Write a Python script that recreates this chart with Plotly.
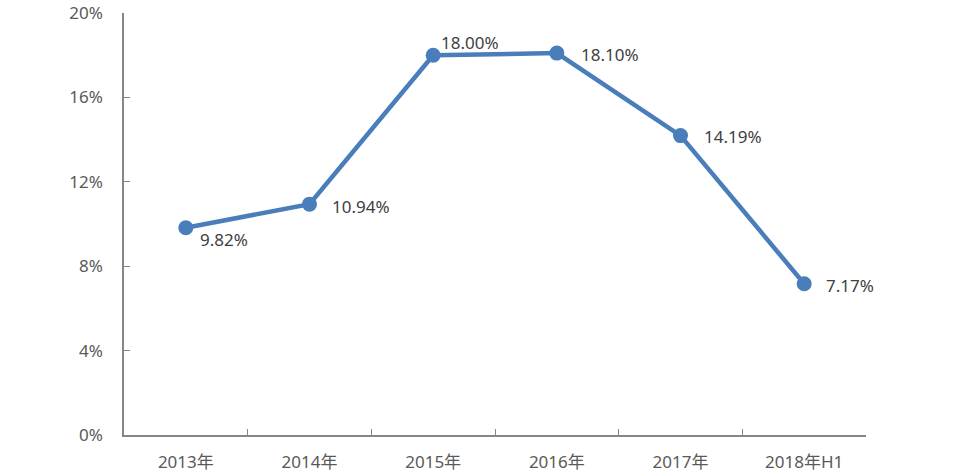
import plotly.graph_objects as go

# 数据
years = ['2013年', '2014年', '2015年', '2016年', '2017年', '2018年H1']
rates = [9.82, 10.94, 18.00, 18.10, 14.19, 7.17]
labels = ['9.82%', '10.94%', '18.00%', '18.10%', '14.19%', '7.17%']
y_ticks = [0, 4, 8, 12, 16, 20]
y_tick_text = ['0%', '4%', '8%', '12%', '16%', '20%']

# label offsets (px) relative to each point
label_dx = [12, 20, 6, 22, 21, 20]
label_dy = [-12, -2, 13, -1, -1, -2]

font_family = '"Noto Sans", "Noto Sans CJK SC", sans-serif'
line_color = '#4a7ebb'
axis_color = '#868686'

fig = go.Figure()
fig.add_trace(go.Scatter(
    x=years, y=rates, mode='lines+markers',
    line=dict(color=line_color, width=4.5),
    marker=dict(color=line_color, size=15),
    hoverinfo='skip', showlegend=False,
))

for x, y, t, dx, dy in zip(years, rates, labels, label_dx, label_dy):
    fig.add_annotation(x=x, y=y, text=t, showarrow=False,
                       xanchor='left', yanchor='middle',
                       xshift=dx, yshift=dy,
                       font=dict(size=17, color='#404040', family=font_family))

fig.update_layout(
    width=961, height=475,
    margin=dict(l=124, r=95, t=13, b=40),
    plot_bgcolor='white', paper_bgcolor='white',
    font=dict(family=font_family, size=17, color='#595959'),
)
fig.update_xaxes(
    type='category', range=[-0.5, 5.5], automargin=False,
    showline=True, linecolor=axis_color, linewidth=1.5,
    ticks='inside', tickson='boundaries', ticklen=6, tickcolor=axis_color,
    showgrid=False, ticklabelstandoff=11,
    tickfont=dict(size=17, color='#595959', family=font_family),
)
fig.update_yaxes(
    range=[0, 20], tickvals=y_ticks, ticktext=y_tick_text, automargin=False,
    showline=True, linecolor=axis_color, linewidth=1.5,
    ticks='inside', ticklen=6, tickcolor=axis_color,
    ticklabeloverflow='allow',
    showgrid=False, zeroline=False, ticklabelstandoff=16,
    tickfont=dict(size=17, color='#595959', family=font_family),
)

# drop the default page margin so the chart sits at the window's corner
fig.write_html('out.html', config={'displayModeBar': False},
               post_script="document.body.style.margin='0';")
